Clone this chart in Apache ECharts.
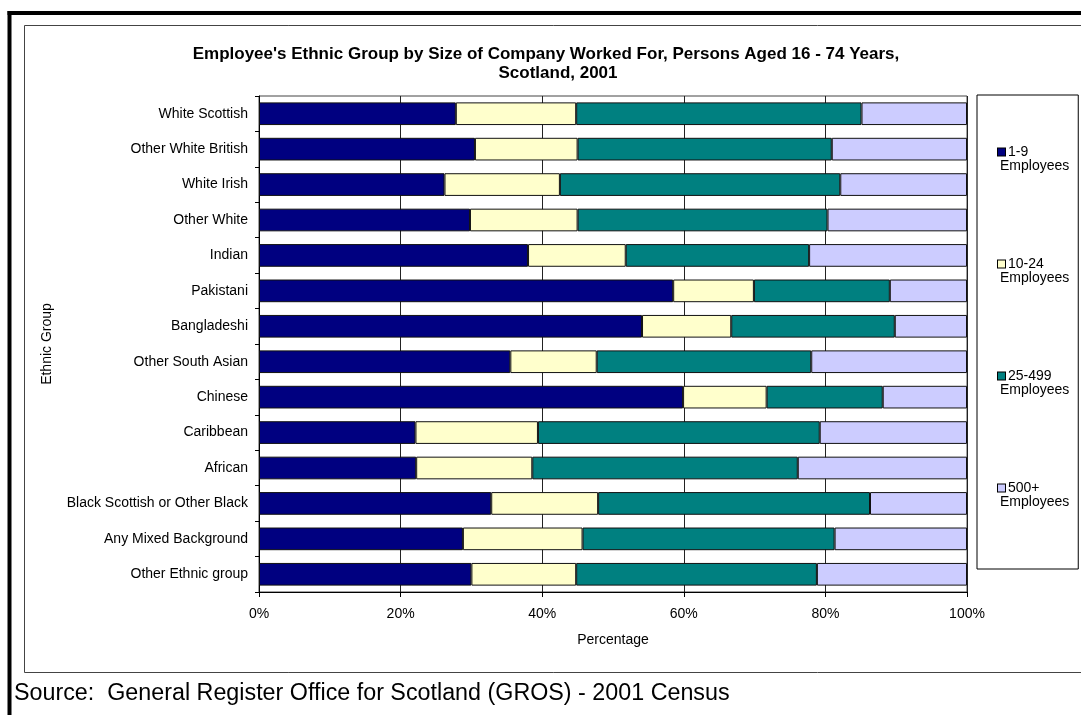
<!DOCTYPE html>
<html>
<head>
<meta charset="utf-8">
<script src="https://cdn.jsdelivr.net/npm/echarts@6/dist/echarts.min.js"></script>
<style>
  html, body { margin: 0; padding: 0; background: #ffffff; }
  #chart { width: 1081px; height: 715px; }
</style>
</head>
<body>
<div id="chart"></div>
<script>
// ---- Data (percentages) ----
const categories = [
  'White Scottish', 'Other White British', 'White Irish', 'Other White',
  'Indian', 'Pakistani', 'Bangladeshi', 'Other South Asian', 'Chinese',
  'Caribbean', 'African', 'Black Scottish or Other Black',
  'Any Mixed Background', 'Other Ethnic group'
];
const sizeBands = ['1-9', '10-24', '25-499', '500+'];
const emp1to9    = [27.8, 30.5, 26.2, 29.8, 38.0, 58.5, 54.1, 35.5, 59.9, 22.1, 22.2, 32.8, 28.8, 30.0];
const emp10to24  = [17.0, 14.5, 16.3, 15.2, 13.8, 11.4, 12.6, 12.2, 11.8, 17.3, 16.4, 15.1, 16.9, 14.8];
const emp25to499 = [40.3, 35.9, 39.6, 35.3, 25.9, 19.2, 23.1, 30.3, 16.4, 39.8, 37.5, 38.4, 35.6, 34.0];
const emp500plus = [14.9, 19.1, 17.9, 19.7, 22.3, 10.9, 10.2, 22.0, 11.9, 20.8, 23.9, 13.7, 18.7, 21.2];
const xTickValues = [0, 20, 40, 60, 80, 100];
const titleLine1 = "Employee's Ethnic Group by Size of Company Worked For, Persons Aged 16 - 74 Years,";
const titleLine2 = 'Scotland, 2001';
const sourceText = 'Source:  General Register Office for Scotland (GROS) - 2001 Census';

const seriesValues = [emp1to9, emp10to24, emp25to499, emp500plus];
const seriesColors = ['#000080', '#FFFFCC', '#008080', '#CCCCFF'];
const seriesNames = sizeBands.map(b => b + ' Employees');

const FONT = '"Liberation Sans", Arial, Helvetica, sans-serif';

const legendRich = {
  n: { fontSize: 14, fontFamily: FONT, color: '#000', lineHeight: 14, padding: [0, 0, 0, 3] },
  e: { fontSize: 14, fontFamily: FONT, color: '#000', lineHeight: 14, padding: [0, 0, 0, 2] }
};
seriesColors.forEach((c, i) => {
  legendRich['s' + i] = {
    width: 7, height: 7, backgroundColor: c, borderColor: '#000', borderWidth: 1,
    verticalAlign: 'middle', lineHeight: 14
  };
});

const chart = echarts.init(document.getElementById('chart'), null, { renderer: 'canvas' });

const option = {
  backgroundColor: '#ffffff',
  animation: false,
  textStyle: { fontFamily: FONT, color: '#000' },
  title: [
    {
      text: titleLine1,
      left: 541, top: 40, textAlign: 'center',
      textStyle: { fontFamily: FONT, fontSize: 17, fontWeight: 'bold', color: '#000', lineHeight: 19 }
    },
    {
      text: titleLine2,
      left: 553, top: 59, textAlign: 'center',
      textStyle: { fontFamily: FONT, fontSize: 17, fontWeight: 'bold', color: '#000', lineHeight: 19 }
    }
  ],
  legend: {
    orient: 'vertical',
    left: 977, top: 95,
    padding: [50, 9, 60, 16],
    itemGap: 84,
    icon: 'none',
    itemWidth: 0, itemHeight: 14,
    borderColor: '#000', borderWidth: 1,
    selectedMode: false,
    data: seriesNames,
    formatter: function (name) {
      const i = seriesNames.indexOf(name);
      return '{s' + i + '| }{n|' + sizeBands[i] + '}\n{e|Employees}';
    },
    textStyle: { fontFamily: FONT, fontSize: 14, color: '#000', lineHeight: 14, rich: legendRich }
  },
  grid: {
    left: 259, right: 114, top: 96, bottom: 123,
    show: true, borderColor: '#444', borderWidth: 1, backgroundColor: '#fff'
  },
  xAxis: {
    type: 'value',
    min: 0, max: 100, interval: 20,
    name: 'Percentage', nameLocation: 'middle', nameGap: 41,
    nameTextStyle: { fontFamily: FONT, fontSize: 14, color: '#000' },
    axisLine: { show: true, lineStyle: { color: '#000', width: 1 } },
    axisTick: { show: true, inside: false, length: 5, lineStyle: { color: '#000' } },
    axisLabel: {
      margin: 15, fontFamily: FONT, fontSize: 14, color: '#000',
      customValues: xTickValues,
      formatter: '{value}%'
    },
    splitLine: { show: true, lineStyle: { color: '#222', width: 1 } }
  },
  yAxis: {
    type: 'category',
    data: categories,
    inverse: true,
    name: 'Ethnic Group', nameLocation: 'middle', nameGap: 205, nameRotate: 90,
    nameTextStyle: { fontFamily: FONT, fontSize: 14, color: '#000' },
    axisLine: { show: true, lineStyle: { color: '#000', width: 1 } },
    axisTick: { show: true, inside: false, length: 4, alignWithLabel: false, lineStyle: { color: '#000' } },
    axisLabel: { margin: 11, fontFamily: FONT, fontSize: 14, color: '#000' },
    splitLine: { show: false }
  },
  series: seriesNames.map((name, i) => ({
    name: name,
    type: 'bar',
    stack: 'total',
    barWidth: '64%',
    data: seriesValues[i],
    itemStyle: { color: seriesColors[i], borderColor: '#111', borderWidth: 1 },
    emphasis: { disabled: true }
  })),
  graphic: [
    {
      type: 'rect', silent: true, z: -1,
      shape: { x: 24.5, y: 25.5, width: 1100, height: 647 },
      style: { fill: 'none', stroke: '#444', lineWidth: 1 }
    },
    {
      type: 'line', silent: true,
      shape: { x1: 7.5, y1: 13, x2: 1090, y2: 13 },
      style: { stroke: '#000', lineWidth: 4 }
    },
    {
      type: 'line', silent: true,
      shape: { x1: 9.5, y1: 11, x2: 9.5, y2: 720 },
      style: { stroke: '#000', lineWidth: 4 }
    },
    {
      type: 'text', silent: true,
      left: 14, top: 682,
      style: { text: sourceText, fontFamily: FONT, fontSize: 23.3, fill: '#000' }
    }
  ]
};

chart.setOption(option);
</script>
</body>
</html>
